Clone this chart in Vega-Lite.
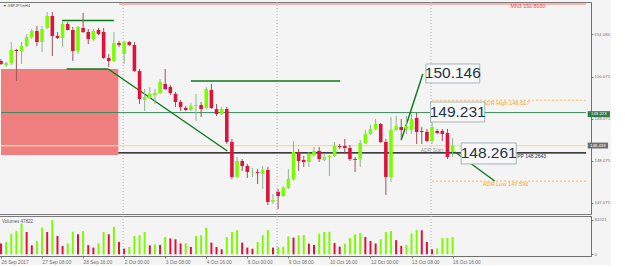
{
"$schema": "https://vega.github.io/schema/vega-lite/v6.json",
"background": "#f4f4f4",
"padding": {"left": -5, "top": 1, "right": 0, "bottom": 0},
"spacing": 0,
"config": {"view": {"stroke": "#7a7a7a", "fill": "#f4f4f4"}, "font": "Liberation Sans"},
"datasets": {
"candles": [
{"i":0,"o":150.449,"h":150.497,"l":150.354,"c":150.378,"v":25600,"vd":"down"},
{"i":1,"o":150.354,"h":150.426,"l":150.307,"c":150.402,"v":29600,"vd":"up"},
{"i":2,"o":150.402,"h":150.901,"l":150.354,"c":150.711,"v":49500,"vd":"up"},
{"i":3,"o":150.711,"h":150.735,"l":149.974,"c":150.687,"v":56000,"vd":"up"},
{"i":4,"o":150.687,"h":150.901,"l":150.378,"c":150.806,"v":74000,"vd":"up"},
{"i":5,"o":150.806,"h":151.091,"l":150.782,"c":151.020,"v":53500,"vd":"down"},
{"i":6,"o":151.020,"h":151.210,"l":150.972,"c":151.162,"v":21600,"vd":"down"},
{"i":7,"o":151.162,"h":151.281,"l":150.806,"c":150.901,"v":32000,"vd":"up"},
{"i":8,"o":150.901,"h":151.281,"l":150.663,"c":151.210,"v":64000,"vd":"up"},
{"i":9,"o":151.234,"h":151.614,"l":151.210,"c":151.519,"v":53500,"vd":"down"},
{"i":10,"o":151.519,"h":151.614,"l":150.568,"c":151.043,"v":82000,"vd":"up"},
{"i":11,"o":151.043,"h":151.139,"l":150.972,"c":150.996,"v":44000,"vd":"down"},
{"i":12,"o":150.996,"h":151.400,"l":150.782,"c":151.329,"v":20000,"vd":"down"},
{"i":13,"o":151.329,"h":151.376,"l":151.174,"c":151.186,"v":26000,"vd":"up"},
{"i":14,"o":151.186,"h":151.257,"l":150.449,"c":150.687,"v":54000,"vd":"up"},
{"i":15,"o":150.687,"h":151.281,"l":150.616,"c":151.257,"v":48000,"vd":"down"},
{"i":16,"o":151.234,"h":151.590,"l":151.115,"c":151.139,"v":56000,"vd":"up"},
{"i":17,"o":151.139,"h":151.210,"l":150.853,"c":150.972,"v":22000,"vd":"down"},
{"i":18,"o":150.972,"h":151.210,"l":150.925,"c":151.162,"v":16000,"vd":"down"},
{"i":19,"o":151.186,"h":151.234,"l":151.067,"c":151.091,"v":26000,"vd":"up"},
{"i":20,"o":151.139,"h":151.234,"l":150.497,"c":150.521,"v":53500,"vd":"up"},
{"i":21,"o":150.521,"h":150.616,"l":150.307,"c":150.449,"v":48000,"vd":"down"},
{"i":22,"o":150.449,"h":151.139,"l":150.426,"c":150.877,"v":66000,"vd":"up"},
{"i":23,"o":150.877,"h":150.925,"l":150.782,"c":150.830,"v":29600,"vd":"down"},
{"i":24,"o":150.616,"h":150.925,"l":150.378,"c":150.901,"v":13600,"vd":"down"},
{"i":25,"o":150.901,"h":150.925,"l":150.806,"c":150.830,"v":17600,"vd":"up"},
{"i":26,"o":150.830,"h":150.901,"l":150.188,"c":150.212,"v":44000,"vd":"up"},
{"i":27,"o":150.212,"h":150.259,"l":149.427,"c":149.546,"v":46000,"vd":"up"},
{"i":28,"o":149.523,"h":149.784,"l":149.261,"c":149.594,"v":53500,"vd":"up"},
{"i":29,"o":149.570,"h":149.831,"l":149.546,"c":149.665,"v":21600,"vd":"down"},
{"i":30,"o":149.641,"h":149.784,"l":149.427,"c":149.689,"v":24000,"vd":"up"},
{"i":31,"o":149.689,"h":150.021,"l":149.665,"c":149.950,"v":22400,"vd":"down"},
{"i":32,"o":149.903,"h":150.259,"l":149.760,"c":149.784,"v":41500,"vd":"up"},
{"i":33,"o":149.831,"h":149.879,"l":149.641,"c":149.689,"v":38000,"vd":"down"},
{"i":34,"o":149.665,"h":149.713,"l":149.356,"c":149.475,"v":36000,"vd":"down"},
{"i":35,"o":149.475,"h":149.523,"l":149.261,"c":149.356,"v":26000,"vd":"down"},
{"i":36,"o":149.332,"h":149.380,"l":149.261,"c":149.285,"v":26500,"vd":"up"},
{"i":37,"o":149.285,"h":149.451,"l":149.261,"c":149.380,"v":17600,"vd":"down"},
{"i":38,"o":149.380,"h":149.665,"l":149.024,"c":149.404,"v":44000,"vd":"up"},
{"i":39,"o":149.404,"h":149.475,"l":149.118,"c":149.309,"v":46000,"vd":"up"},
{"i":40,"o":149.332,"h":149.831,"l":149.309,"c":149.784,"v":64000,"vd":"up"},
{"i":41,"o":149.760,"h":149.903,"l":149.309,"c":149.332,"v":28000,"vd":"down"},
{"i":42,"o":149.309,"h":149.427,"l":149.142,"c":149.190,"v":17600,"vd":"down"},
{"i":43,"o":149.190,"h":149.356,"l":149.166,"c":149.309,"v":12000,"vd":"down"},
{"i":44,"o":149.309,"h":149.356,"l":148.477,"c":148.524,"v":41500,"vd":"up"},
{"i":45,"o":148.524,"h":148.596,"l":147.645,"c":147.693,"v":53500,"vd":"up"},
{"i":46,"o":147.693,"h":148.168,"l":147.669,"c":148.073,"v":58000,"vd":"up"},
{"i":47,"o":148.073,"h":148.120,"l":147.835,"c":147.954,"v":28000,"vd":"down"},
{"i":48,"o":147.954,"h":148.002,"l":147.669,"c":147.812,"v":16000,"vd":"down"},
{"i":49,"o":147.800,"h":147.907,"l":147.693,"c":147.812,"v":13600,"vd":"down"},
{"i":50,"o":147.812,"h":147.883,"l":147.526,"c":147.788,"v":29600,"vd":"up"},
{"i":51,"o":147.764,"h":147.954,"l":147.408,"c":147.859,"v":46000,"vd":"up"},
{"i":52,"o":147.859,"h":147.930,"l":147.027,"c":147.099,"v":58000,"vd":"up"},
{"i":53,"o":147.099,"h":147.289,"l":147.051,"c":147.146,"v":16000,"vd":"down"},
{"i":54,"o":147.336,"h":147.408,"l":146.932,"c":147.241,"v":17600,"vd":"up"},
{"i":55,"o":147.241,"h":147.479,"l":147.217,"c":147.431,"v":18000,"vd":"up"},
{"i":56,"o":147.431,"h":147.883,"l":147.408,"c":147.645,"v":43000,"vd":"up"},
{"i":57,"o":147.645,"h":148.548,"l":147.621,"c":148.287,"v":40000,"vd":"down"},
{"i":58,"o":148.287,"h":148.358,"l":147.835,"c":148.073,"v":45500,"vd":"up"},
{"i":59,"o":148.097,"h":148.192,"l":147.930,"c":148.049,"v":46000,"vd":"up"},
{"i":60,"o":148.049,"h":148.287,"l":147.930,"c":148.239,"v":25600,"vd":"down"},
{"i":61,"o":148.215,"h":148.406,"l":148.192,"c":148.311,"v":22400,"vd":"down"},
{"i":62,"o":148.311,"h":148.406,"l":148.049,"c":148.120,"v":49500,"vd":"up"},
{"i":63,"o":148.097,"h":148.239,"l":148.073,"c":148.168,"v":53500,"vd":"up"},
{"i":64,"o":148.168,"h":148.215,"l":147.717,"c":148.192,"v":54000,"vd":"up"},
{"i":65,"o":148.192,"h":148.524,"l":148.168,"c":148.429,"v":27000,"vd":"down"},
{"i":66,"o":148.429,"h":148.477,"l":148.358,"c":148.406,"v":18400,"vd":"down"},
{"i":67,"o":148.429,"h":148.596,"l":148.239,"c":148.382,"v":25600,"vd":"up"},
{"i":68,"o":148.382,"h":148.453,"l":148.073,"c":148.120,"v":39000,"vd":"up"},
{"i":69,"o":148.120,"h":148.168,"l":147.812,"c":148.097,"v":48000,"vd":"up"},
{"i":70,"o":148.120,"h":148.572,"l":147.930,"c":148.501,"v":51000,"vd":"up"},
{"i":71,"o":148.501,"h":148.810,"l":148.477,"c":148.715,"v":41500,"vd":"down"},
{"i":72,"o":148.715,"h":148.929,"l":148.691,"c":148.833,"v":32000,"vd":"down"},
{"i":73,"o":148.833,"h":149.071,"l":148.810,"c":148.952,"v":26000,"vd":"down"},
{"i":74,"o":148.952,"h":148.976,"l":148.501,"c":148.524,"v":36000,"vd":"up"},
{"i":75,"o":148.524,"h":148.596,"l":147.265,"c":147.693,"v":53500,"vd":"up"},
{"i":76,"o":147.693,"h":149.118,"l":147.574,"c":148.810,"v":56000,"vd":"up"},
{"i":77,"o":148.810,"h":149.142,"l":148.786,"c":148.905,"v":34000,"vd":"down"},
{"i":78,"o":148.881,"h":149.071,"l":148.572,"c":148.810,"v":20000,"vd":"down"},
{"i":79,"o":148.833,"h":149.142,"l":148.715,"c":148.905,"v":22400,"vd":"up"},
{"i":80,"o":148.810,"h":149.190,"l":148.715,"c":149.071,"v":50000,"vd":"up"},
{"i":81,"o":149.095,"h":149.214,"l":148.477,"c":148.762,"v":58000,"vd":"up"},
{"i":82,"o":148.786,"h":148.881,"l":148.477,"c":148.762,"v":57500,"vd":"down"},
{"i":83,"o":148.762,"h":148.833,"l":148.524,"c":148.548,"v":29600,"vd":"down"},
{"i":84,"o":148.548,"h":149.000,"l":148.477,"c":148.881,"v":12000,"vd":"down"},
{"i":85,"o":148.786,"h":148.833,"l":148.715,"c":148.738,"v":14400,"vd":"up"},
{"i":86,"o":148.786,"h":148.833,"l":148.548,"c":148.715,"v":39000,"vd":"up"},
{"i":87,"o":148.738,"h":148.833,"l":148.120,"c":148.168,"v":39500,"vd":"up"},
{"i":88,"o":148.287,"h":148.620,"l":148.168,"c":148.439,"v":41500,"vd":"up"}
],
"zone": [{"i":0,"i2":22.86,"p":150.259,"p2":148.215}],
"seps": [{"i":23.8},{"i":53.8},{"i":83.8}],
"levels": [
{"k":"MN3","p":151.803,"i":23,"i2":114},
{"k":"G","p":149.223,"i":0,"i2":114},
{"k":"Y","p":148.439,"i":0,"i2":114},
{"k":"PP","p":148.2643,"i":22.86,"i2":114},
{"k":"ADR","p":149.517,"i":84,"i2":114},
{"k":"ADR","p":147.593,"i":84,"i2":114}
],
"trend": [
{"i":11.9,"p":151.412,"i2":22.0,"p2":151.412},
{"i":12.8,"p":150.259,"i2":20.9,"p2":150.259},
{"i":37.0,"p":149.974,"i2":66.1,"p2":149.974},
{"i":20.9,"p":150.259,"i2":44.1,"p2":148.31},
{"i":78.0,"p":148.572,"i2":82.2,"p2":150.14},
{"i":88.5,"p":148.287,"i2":96.2,"p2":147.598}
],
"notes": [
{"k":"sym","t":"▼ GBPJPY,mH4","i":0.4,"p":151.756},
{"k":"mn3","t":"MN3 151.8030","i":99.3,"p":151.745},
{"k":"adr","t":"ADR High 149.517","i":93.9,"p":149.451},
{"k":"adr","t":"ADR Low 147.593","i":93.9,"p":147.526},
{"k":"start","t":"ADR Start","i":81.8,"p":148.334},
{"k":"pp","t":"PP 148.2643","i":100.6,"p":148.192}
],
"boxes": [
{"t":"150.146","i":82.8,"i2":93.3,"p":150.378,"p2":149.926,"ti":88.05,"tp":150.152},
{"t":"149.231","i":83.73,"i2":94.27,"p":149.475,"p2":149.0,"ti":89.0,"tp":149.237},
{"t":"148.261","i":89.67,"i2":100.4,"p":148.501,"p2":148.002,"ti":95.04,"tp":148.251}
],
"tags": [
{"k":"g","t":"149.223","i":114.33,"i2":118.67,"p":149.257,"p2":149.115,"ti":116.5,"tp":149.19},
{"k":"k","t":"148.439","i":114.33,"i2":118.3,"p":148.51,"p2":148.37,"ti":116.3,"tp":148.439}
],
"vnote": [{"t":"Volumes 47822","i":0.2,"v":77400}]
},
"vconcat": [
{
"width": 595, "height": 212,
"layer": [
{"data": {"name": "zone"}, "mark": {"type": "rect", "color": "#f08080"},
 "encoding": {
  "x": {"field": "i", "type": "quantitative", "scale": {"domain": [0, 114], "nice": false, "zero": false}, "axis": null},
  "x2": {"field": "i2"},
  "y": {"field": "p", "type": "quantitative", "scale": {"domain": [146.813, 151.851], "nice": false, "zero": false},
   "axis": {"orient": "right", "values": [151.59, 151.08, 150.58, 150.075, 149.575, 149.075, 148.575, 148.075, 147.575, 147.075], "format": ".3f", "labelFontSize": 4.3, "labelColor": "#707070", "tickSize": 2, "tickColor": "#808080", "domainColor": "#707070", "labelPadding": 1, "grid": false, "title": null, "labelFlush": false, "labelOverlap": false}},
  "y2": {"field": "p2"}}},
{"data": {"name": "seps"}, "mark": {"type": "rule", "color": "#b4b4b4", "strokeDash": [1, 2], "strokeWidth": 1},
 "encoding": {"x": {"field": "i", "type": "quantitative", "scale": {"domain": [0, 114], "nice": false, "zero": false}, "axis": null}}},
{"data": {"name": "levels"}, "transform": [{"filter": "datum.k == 'MN3'"}], "mark": {"type": "rule", "color": "#f4a0a0", "strokeWidth": 1.5},
 "encoding": {"x": {"field": "i", "type": "quantitative", "scale": {"domain": [0, 114], "nice": false, "zero": false}, "axis": null}, "x2": {"field": "i2"},
  "y": {"field": "p", "type": "quantitative", "scale": {"domain": [146.813, 151.851], "nice": false, "zero": false}}}},
{"data": {"name": "levels"}, "transform": [{"filter": "datum.k == 'G'"}], "mark": {"type": "rule", "color": "#3b8a5c", "strokeWidth": 1},
 "encoding": {"x": {"field": "i", "type": "quantitative", "scale": {"domain": [0, 114], "nice": false, "zero": false}, "axis": null}, "x2": {"field": "i2"},
  "y": {"field": "p", "type": "quantitative", "scale": {"domain": [146.813, 151.851], "nice": false, "zero": false}}}},
{"data": {"name": "levels"}, "transform": [{"filter": "datum.k == 'Y'"}], "mark": {"type": "rule", "color": "#ffdc8c", "strokeWidth": 1.2},
 "encoding": {"x": {"field": "i", "type": "quantitative", "scale": {"domain": [0, 114], "nice": false, "zero": false}, "axis": null}, "x2": {"field": "i2"},
  "y": {"field": "p", "type": "quantitative", "scale": {"domain": [146.813, 151.851], "nice": false, "zero": false}}}},
{"data": {"name": "levels"}, "transform": [{"filter": "datum.k == 'PP'"}], "mark": {"type": "rule", "color": "#000000", "strokeWidth": 1.3},
 "encoding": {"x": {"field": "i", "type": "quantitative", "scale": {"domain": [0, 114], "nice": false, "zero": false}, "axis": null}, "x2": {"field": "i2"},
  "y": {"field": "p", "type": "quantitative", "scale": {"domain": [146.813, 151.851], "nice": false, "zero": false}}}},
{"data": {"name": "levels"}, "transform": [{"filter": "datum.k == 'ADR'"}], "mark": {"type": "rule", "color": "#ffb84d", "strokeWidth": 1, "strokeDash": [2, 2]},
 "encoding": {"x": {"field": "i", "type": "quantitative", "scale": {"domain": [0, 114], "nice": false, "zero": false}, "axis": null}, "x2": {"field": "i2"},
  "y": {"field": "p", "type": "quantitative", "scale": {"domain": [146.813, 151.851], "nice": false, "zero": false}}}},
{"data": {"name": "trend"}, "mark": {"type": "rule", "color": "#0a7a1a", "strokeWidth": 1.4},
 "encoding": {"x": {"field": "i", "type": "quantitative", "scale": {"domain": [0, 114], "nice": false, "zero": false}, "axis": null}, "x2": {"field": "i2"},
  "y": {"field": "p", "type": "quantitative", "scale": {"domain": [146.813, 151.851], "nice": false, "zero": false}}, "y2": {"field": "p2"}}},
{"data": {"name": "candles"}, "mark": {"type": "rule", "strokeWidth": 1},
 "encoding": {"x": {"field": "i", "type": "quantitative", "scale": {"domain": [0, 114], "nice": false, "zero": false}, "axis": null},
  "y": {"field": "l", "type": "quantitative", "scale": {"domain": [146.813, 151.851], "nice": false, "zero": false}}, "y2": {"field": "h"},
  "color": {"condition": {"test": "datum.c >= datum.o", "value": "#8db58d"}, "value": "#a0505a"}}},
{"data": {"name": "candles"}, "mark": {"type": "bar", "size": 3.6},
 "encoding": {"x": {"field": "i", "type": "quantitative", "scale": {"domain": [0, 114], "nice": false, "zero": false}, "axis": null},
  "y": {"field": "o", "type": "quantitative", "scale": {"domain": [146.813, 151.851], "nice": false, "zero": false}}, "y2": {"field": "c"},
  "color": {"condition": {"test": "datum.c >= datum.o", "value": "#7cfc00"}, "value": "#dc143c"}}},
{"data": {"name": "notes"}, "transform": [{"filter": "datum.k == 'sym'"}], "mark": {"type": "text", "align": "left", "baseline": "middle", "fontSize": 3.6, "color": "#505050"},
 "encoding": {"x": {"field": "i", "type": "quantitative", "scale": {"domain": [0, 114], "nice": false, "zero": false}, "axis": null},
  "y": {"field": "p", "type": "quantitative", "scale": {"domain": [146.813, 151.851], "nice": false, "zero": false}}, "text": {"field": "t"}}},
{"data": {"name": "notes"}, "transform": [{"filter": "datum.k == 'mn3'"}], "mark": {"type": "text", "align": "left", "baseline": "middle", "fontSize": 5.3, "color": "#ff3b3b"},
 "encoding": {"x": {"field": "i", "type": "quantitative", "scale": {"domain": [0, 114], "nice": false, "zero": false}, "axis": null},
  "y": {"field": "p", "type": "quantitative", "scale": {"domain": [146.813, 151.851], "nice": false, "zero": false}}, "text": {"field": "t"}}},
{"data": {"name": "notes"}, "transform": [{"filter": "datum.k == 'adr'"}], "mark": {"type": "text", "align": "left", "baseline": "middle", "fontSize": 5.6, "color": "#ffa21f"},
 "encoding": {"x": {"field": "i", "type": "quantitative", "scale": {"domain": [0, 114], "nice": false, "zero": false}, "axis": null},
  "y": {"field": "p", "type": "quantitative", "scale": {"domain": [146.813, 151.851], "nice": false, "zero": false}}, "text": {"field": "t"}}},
{"data": {"name": "notes"}, "transform": [{"filter": "datum.k == 'start'"}], "mark": {"type": "text", "align": "left", "baseline": "middle", "fontSize": 5, "color": "#8a9aab"},
 "encoding": {"x": {"field": "i", "type": "quantitative", "scale": {"domain": [0, 114], "nice": false, "zero": false}, "axis": null},
  "y": {"field": "p", "type": "quantitative", "scale": {"domain": [146.813, 151.851], "nice": false, "zero": false}}, "text": {"field": "t"}}},
{"data": {"name": "notes"}, "transform": [{"filter": "datum.k == 'pp'"}], "mark": {"type": "text", "align": "left", "baseline": "middle", "fontSize": 5, "color": "#333333"},
 "encoding": {"x": {"field": "i", "type": "quantitative", "scale": {"domain": [0, 114], "nice": false, "zero": false}, "axis": null},
  "y": {"field": "p", "type": "quantitative", "scale": {"domain": [146.813, 151.851], "nice": false, "zero": false}}, "text": {"field": "t"}}},
{"data": {"name": "boxes"}, "mark": {"type": "rect", "fill": "#f8f8f8", "stroke": "#a3b3b8", "strokeWidth": 1},
 "encoding": {"x": {"field": "i", "type": "quantitative", "scale": {"domain": [0, 114], "nice": false, "zero": false}, "axis": null}, "x2": {"field": "i2"},
  "y": {"field": "p", "type": "quantitative", "scale": {"domain": [146.813, 151.851], "nice": false, "zero": false}}, "y2": {"field": "p2"}}},
{"data": {"name": "boxes"}, "mark": {"type": "text", "align": "center", "baseline": "middle", "fontSize": 15.5, "color": "#1e3545"},
 "encoding": {"x": {"field": "ti", "type": "quantitative", "scale": {"domain": [0, 114], "nice": false, "zero": false}, "axis": null},
  "y": {"field": "tp", "type": "quantitative", "scale": {"domain": [146.813, 151.851], "nice": false, "zero": false}}, "text": {"field": "t"}}},
{"data": {"name": "tags"}, "mark": {"type": "rect"},
 "encoding": {"x": {"field": "i", "type": "quantitative", "scale": {"domain": [0, 114], "nice": false, "zero": false}, "axis": null}, "x2": {"field": "i2"},
  "y": {"field": "p", "type": "quantitative", "scale": {"domain": [146.813, 151.851], "nice": false, "zero": false}}, "y2": {"field": "p2"},
  "color": {"condition": {"test": "datum.k == 'g'", "value": "#2e7d4c"}, "value": "#6e6e6e"}}},
{"data": {"name": "tags"}, "mark": {"type": "text", "align": "center", "baseline": "middle", "fontSize": 4.3, "color": "#ffffff"},
 "encoding": {"x": {"field": "ti", "type": "quantitative", "scale": {"domain": [0, 114], "nice": false, "zero": false}, "axis": null},
  "y": {"field": "tp", "type": "quantitative", "scale": {"domain": [146.813, 151.851], "nice": false, "zero": false}}, "text": {"field": "t"}}}
]
},
{
"width": 595, "height": 40,
"layer": [
{"data": {"name": "seps"}, "mark": {"type": "rule", "color": "#b4b4b4", "strokeDash": [1, 2], "strokeWidth": 1},
 "encoding": {"x": {"field": "i", "type": "quantitative", "scale": {"domain": [0, 114], "nice": false, "zero": false},
  "axis": {"values": [0, 8, 16, 24, 32, 40, 48, 56, 64, 72, 80, 88], "labelExpr": "['26 Sep 2017','27 Sep 08:00','28 Sep 16:00','2 Oct 00:00','3 Oct 08:00','4 Oct 16:00','6 Oct 00:00','9 Oct 08:00','10 Oct 16:00','12 Oct 00:00','13 Oct 08:00','16 Oct 16:00'][round(datum.value/8)]", "labelAlign": "left", "labelFontSize": 4.8, "labelColor": "#707070", "tickSize": 2, "tickColor": "#808080", "domainColor": "#707070", "labelPadding": 1, "grid": false, "title": null, "labelFlush": false, "labelOverlap": false}}}},
{"data": {"name": "candles"}, "mark": {"type": "bar", "size": 2},
 "encoding": {"x": {"field": "i", "type": "quantitative", "scale": {"domain": [0, 114], "nice": false, "zero": false}},
  "y": {"field": "v", "type": "quantitative", "scale": {"domain": [-4075, 91809], "nice": false},
   "axis": {"orient": "right", "values": [0, 82221], "format": "d", "labelFontSize": 4.3, "labelColor": "#707070", "tickSize": 2, "tickColor": "#808080", "domainColor": "#707070", "labelPadding": 1, "grid": false, "title": null, "labelFlush": false, "labelOverlap": false}},
  "color": {"condition": {"test": "datum.vd == 'up'", "value": "#7cfc00"}, "value": "#dc143c"}}},
{"data": {"name": "vnote"}, "mark": {"type": "text", "align": "left", "baseline": "middle", "fontSize": 4.5, "color": "#606060"},
 "encoding": {"x": {"field": "i", "type": "quantitative", "scale": {"domain": [0, 114], "nice": false, "zero": false}},
  "y": {"field": "v", "type": "quantitative", "scale": {"domain": [-4075, 91809], "nice": false}}, "text": {"field": "t"}}}
]
}
]
}
